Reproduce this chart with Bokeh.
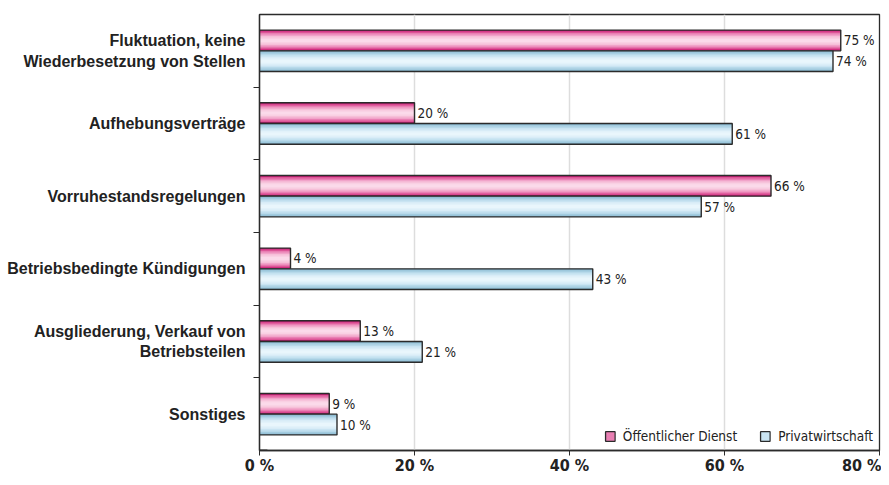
from bokeh.plotting import figure
from bokeh.models import Range1d, FixedTicker, Legend, LegendItem, ColumnDataSource
from bokeh.core.properties import value
from bokeh.embed import file_html
from bokeh.resources import INLINE

categories = [
    "Fluktuation, keine\nWiederbesetzung von Stellen",
    "Aufhebungsverträge",
    "Vorruhestandsregelungen",
    "Betriebsbedingte Kündigungen",
    "Ausgliederung, Verkauf von\nBetriebsteilen",
    "Sonstiges",
]
oeffentlich = [75, 20, 66, 4, 13, 9]
privat = [74, 61, 57, 43, 21, 10]
series_names = ["Öffentlicher Dienst", "Privatwirtschaft"]
x_ticks = [0, 20, 40, 60, 80]

n = len(categories)
centers = [n - i - 0.5 for i in range(n)]
bar_h = 0.285
off = 0.1425

pink_bands = ["#cc1f78", "#dd5597", "#e97fb3", "#f1a3c9", "#f6bfd8", "#f9d0e3", "#fbdaea"]
blue_bands = ["#8cbbd2", "#a2cbdf", "#b7d9ea", "#c9e4f2", "#d8ecf7", "#e2f2fa", "#e9f6fc"]

NARROW = "'DejaVu Sans Condensed', Roboto, sans-serif"

p = figure(width=881, height=477, output_backend="svg", toolbar_location=None,
           x_range=Range1d(0, 80), y_range=Range1d(0, n),
           min_border_left=259, min_border_right=2, min_border_top=14, min_border_bottom=20)

src_p = ColumnDataSource(dict(y=[c + off for c in centers], v=oeffentlich, t=[f"{v} %" for v in oeffentlich]))
src_b = ColumnDataSource(dict(y=[c - off for c in centers], v=privat, t=[f"{v} %" for v in privat]))

def draw(src, bands):
    k = len(bands)
    for i, col in enumerate(bands):
        h = bar_h * (1 - i / k)
        p.hbar(y="y", right="v", left=0, height=h, source=src, fill_color=col, line_color=None)
    p.hbar(y="y", right="v", left=0, height=bar_h, source=src, fill_color=None,
           line_color="#2b2b2b", line_width=1.4)

draw(src_p, pink_bands)
draw(src_b, blue_bands)

# legend swatches
lp = p.hbar(y=[-5], right=[1], height=0.1, fill_color=pink_bands[2], line_color="#2b2b2b", line_width=1.3)
lb = p.hbar(y=[-5], right=[1], height=0.1, fill_color=blue_bands[3], line_color="#2b2b2b", line_width=1.3)

for src in (src_p, src_b):
    p.text(x="v", y="y", text="t", source=src, x_offset=3, text_baseline="middle",
           text_font=value(NARROW), text_font_size="13.5px", text_color="#222222")

legend = Legend(items=[LegendItem(label=series_names[0], renderers=[lp]),
                       LegendItem(label=series_names[1], renderers=[lb])],
                orientation="horizontal", location="bottom_right",
                background_fill_alpha=0, border_line_color=None,
                label_text_font=NARROW, label_text_font_size="13.5px", label_text_color="#222222",
                glyph_width=12, glyph_height=12, spacing=22, padding=4, margin=6,
                label_standoff=7)
p.add_layout(legend)

p.xgrid.grid_line_color = "#dddddd"
p.xgrid.grid_line_width = 1.5
p.ygrid.grid_line_color = None
p.outline_line_color = "#2b2b2b"
p.outline_line_width = 1.3
p.outline_line_alpha = 1

xa = p.xaxis[0]
xa.ticker = FixedTicker(ticks=x_ticks)
xa.major_label_overrides = {t: f"{t} %" for t in x_ticks}
xa.major_label_text_font = NARROW
xa.major_label_text_font_style = "bold"
xa.major_label_text_font_size = "16px"
xa.major_label_text_color = "#222222"
xa.axis_line_color = "#2b2b2b"
xa.axis_line_width = 1.3
xa.major_tick_line_color = "#2b2b2b"
xa.major_tick_in = 0
xa.major_tick_out = 5
xa.minor_tick_line_color = None
xa.major_label_standoff = 0

ya = p.yaxis[0]
ya.ticker = FixedTicker(ticks=centers, minor_ticks=list(range(1, n)))
ya.major_label_overrides = {c: lab for c, lab in zip(centers, categories)}
ya.major_label_text_font = "Liberation Sans"
ya.major_label_text_font_style = "bold"
ya.major_label_text_font_size = "16px"
ya.major_label_text_color = "#222222"
ya.axis_line_color = "#2b2b2b"
ya.axis_line_width = 1.3
ya.major_tick_line_color = None
ya.major_tick_out = 0
ya.major_tick_in = 0
ya.minor_tick_line_color = "#2b2b2b"
ya.minor_tick_out = 6
ya.minor_tick_in = 0
ya.major_label_standoff = 8

open("out.html", "w").write(file_html(p, INLINE))
